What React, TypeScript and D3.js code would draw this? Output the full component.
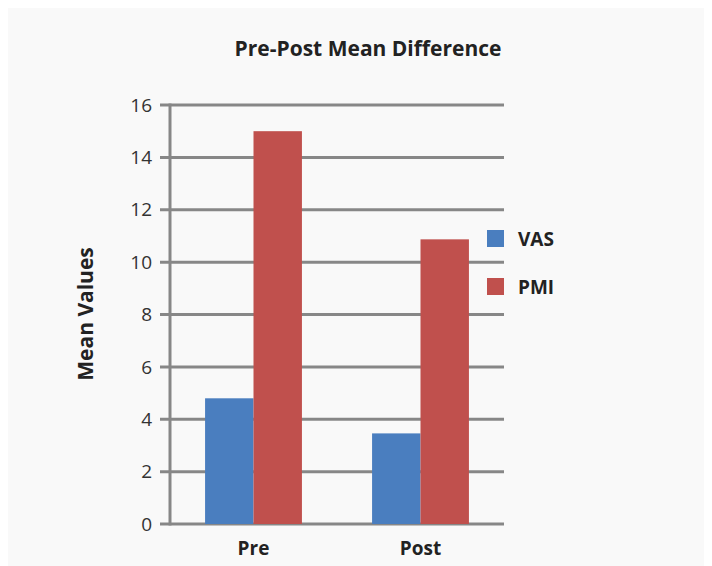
import React, { useEffect, useRef } from 'react';
import * as d3 from 'd3';

const categories = ['Pre', 'Post'];
const seriesNames = ['VAS', 'PMI'];
const vasValues = [4.8, 3.46];
const pmiValues = [15.0, 10.87];
const yTicks = [0, 2, 4, 6, 8, 10, 12, 14, 16];
const colors = ['#4a7ebf', '#c0504d'];

const App: React.FC = () => {
  const ref = useRef<SVGSVGElement>(null);

  useEffect(() => {
    const svg = d3.select(ref.current!);
    svg.selectAll('*').remove();

    const width = 704;
    const height = 558;
    const font = '"Open Sans", Lato, sans-serif';
    const margin = { top: 97, right: 208, bottom: 42, left: 162 };
    const innerW = width - margin.left - margin.right;
    const innerH = height - margin.top - margin.bottom;

    svg.append('rect').attr('width', width).attr('height', height).attr('fill', '#f9f9f9');

    const g = svg.append('g').attr('transform', `translate(${margin.left},${margin.top})`);

    const x0 = d3.scaleBand<string>().domain(categories).range([0, innerW]).paddingInner(0.42).paddingOuter(0.21);
    const x1 = d3.scaleBand<string>().domain(seriesNames).range([0, x0.bandwidth()]);
    const y = d3.scaleLinear().domain([0, 16]).range([innerH, 0]);

    // gridlines
    g.selectAll('.grid')
      .data(yTicks)
      .enter()
      .append('line')
      .attr('x1', -10)
      .attr('x2', innerW)
      .attr('y1', (d) => y(d))
      .attr('y2', (d) => y(d))
      .attr('stroke', '#878787')
      .attr('stroke-width', 3);

    // bars
    const rows = categories.map((c, i) => ({ cat: c, values: [vasValues[i], pmiValues[i]] }));
    const groups = g
      .selectAll('.grp')
      .data(rows)
      .enter()
      .append('g')
      .attr('transform', (d) => `translate(${x0(d.cat)},0)`);
    groups
      .selectAll('rect')
      .data((d) => d.values.map((v, j) => ({ key: seriesNames[j], v, j })))
      .enter()
      .append('rect')
      .attr('x', (d) => x1(d.key) as number)
      .attr('width', x1.bandwidth())
      .attr('y', (d) => y(d.v))
      .attr('height', (d) => innerH - y(d.v))
      .attr('fill', (d) => colors[d.j]);

    // y axis line
    g.append('line')
      .attr('x1', 0)
      .attr('x2', 0)
      .attr('y1', y(16) - 1.5)
      .attr('y2', y(0) + 1.5)
      .attr('stroke', '#878787')
      .attr('stroke-width', 3);

    // y tick labels
    g.selectAll('.ytl')
      .data(yTicks)
      .enter()
      .append('text')
      .attr('x', -18)
      .attr('y', (d) => y(d))
      .attr('dy', '0.35em')
      .attr('text-anchor', 'end')
      .attr('font-family', font)
      .attr('font-size', 19)
      .attr('fill', '#333')
      .text((d) => d);

    // x labels
    g.selectAll('.xl')
      .data(categories)
      .enter()
      .append('text')
      .attr('x', (d) => (x0(d) as number) + x0.bandwidth() / 2)
      .attr('y', innerH + 24)
      .attr('dy', '0.35em')
      .attr('text-anchor', 'middle')
      .attr('font-family', font)
      .attr('font-weight', 'bold')
      .attr('font-size', 19)
      .attr('fill', '#222')
      .text((d) => d);

    // title
    svg
      .append('text')
      .attr('x', 360)
      .attr('y', 41)
      .attr('dy', '0.35em')
      .attr('text-anchor', 'middle')
      .attr('font-family', font)
      .attr('font-weight', 'bold')
      .attr('font-size', 21)
      .attr('fill', '#222')
      .text('Pre-Post Mean Difference');

    // y axis title
    svg
      .append('text')
      .attr('transform', 'translate(78,306) rotate(-90)')
      .attr('dy', '0.35em')
      .attr('text-anchor', 'middle')
      .attr('font-family', font)
      .attr('font-weight', 'bold')
      .attr('font-size', 21)
      .attr('fill', '#222')
      .text('Mean Values');

    // legend
    const legend = svg
      .selectAll('.leg')
      .data(seriesNames)
      .enter()
      .append('g')
      .attr('transform', (d, i) => `translate(479,${222 + i * 48})`);
    legend
      .append('rect')
      .attr('width', 17)
      .attr('height', 17)
      .attr('fill', (d, i) => colors[i]);
    legend
      .append('text')
      .attr('x', 31)
      .attr('y', 9)
      .attr('dy', '0.35em')
      .attr('font-family', font)
      .attr('font-weight', 'bold')
      .attr('font-size', 19)
      .attr('fill', '#222')
      .text((d) => d);
  }, []);

  return <svg ref={ref} width={704} height={558} style={{ display: 'block' }} />;
};

export default App;
